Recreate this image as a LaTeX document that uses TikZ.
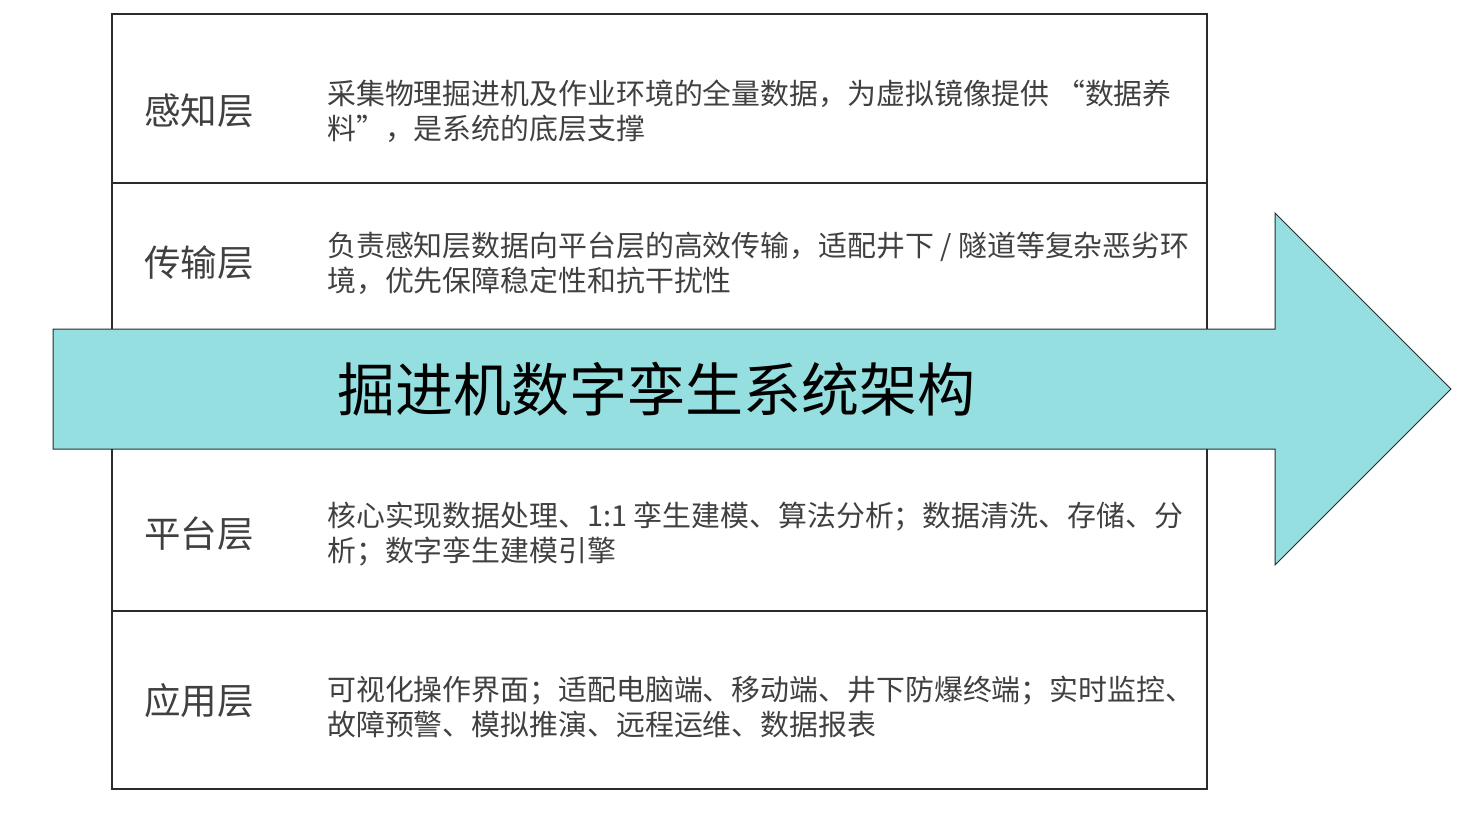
\documentclass[tikz,border=0pt]{standalone}
\usepackage{fontspec}
\newfontfamily\cjk{Noto Sans CJK SC}
\definecolor{arrowfill}{HTML}{96DFE0}
\definecolor{txt}{HTML}{404040}
\definecolor{linec}{HTML}{2B2B2B}
\begin{document}
\begin{tikzpicture}[x=1pt,y=-1pt,
  rowline/.style={draw=linec,line width=1.3pt},
  lbl/.style={anchor=center,text=txt,font=\cjk\fontsize{36.5}{42}\selectfont,inner sep=0pt},
  desc/.style={anchor=west,align=left,text=txt,font=\cjk\fontsize{28.9}{35}\selectfont,inner sep=0pt},
  bigarrow/.style={fill=arrowfill,draw=linec,line width=1pt,line join=miter}]
\useasboundingbox (0,0) rectangle (1481,825);
% frame
\draw[rowline] (112,14) rectangle (1207,789);
\draw[rowline] (112,183) -- (1207,183);
\draw[rowline] (112,611) -- (1207,611);
% labels and descriptions
\node[lbl] (l1) at (199,111) {感知层};
\node[desc] (d1) at (327,111) {采集物理掘进机及作业环境的全量数据，为虚拟镜像提供 “数据养\\料”，是系统的底层支撑};
\node[lbl] (l2) at (199,263) {传输层};
\node[desc] (d2) at (327,263) {负责感知层数据向平台层的高效传输，适配井下 / 隧道等复杂恶劣环\\境，优先保障稳定性和抗干扰性};
\node[lbl] (l3) at (199,534) {平台层};
\node[desc] (d3) at (327,534) {核心实现数据处理、1:1 孪生建模、算法分析；数据清洗、存储、分\\析；数字孪生建模引擎};
\node[lbl] (l4) at (199,701) {应用层};
\node[desc] (d4) at (327,707) {可视化操作界面；适配电脑端、移动端、井下防爆终端；实时监控、\\故障预警、模拟推演、远程运维、数据报表};
% arrow
\draw[bigarrow] (53,329) -- (1275,329) -- (1275,213) -- (1451,389) -- (1275,565) -- (1275,449) -- (53,449) -- cycle;
\node[anchor=center,text=black,font=\cjk\fontsize{58}{66}\selectfont,inner sep=0pt] (title) at (656,389) {掘进机数字孪生系统架构};
\end{tikzpicture}
\end{document}
